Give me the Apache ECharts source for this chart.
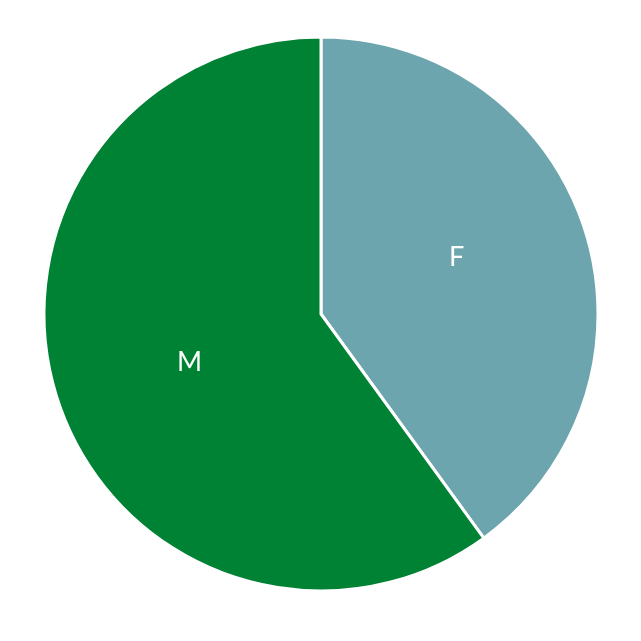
<!DOCTYPE html>
<html>
<head>
<meta charset="utf-8">
<script src="https://cdn.jsdelivr.net/npm/echarts@6/dist/echarts.min.js"></script>
<style>
  html, body { margin: 0; padding: 0; background: #fff; }
  #chart { width: 641px; height: 641px; }
</style>
</head>
<body>
<div id="chart"></div>
<script>
// categories and values
const categories = ["F", "M"];
const values = [40, 60];
const colors = ["#6ca5ad", "#008234"];
// small nudges so the labels sit where the original put them
const labelOffsets = [[1, -13], [3, 5]];

const chart = echarts.init(document.getElementById("chart"));
const option = {
  animation: false,
  series: [
    {
      type: "pie",
      center: [321, 314],
      radius: [0, 277],
      startAngle: 90,
      clockwise: true,
      data: categories.map((name, i) => ({
        name: name,
        value: values[i],
        itemStyle: { color: colors[i] },
        label: { offset: labelOffsets[i] },
      })),
      itemStyle: {
        borderColor: "#fff",
        borderWidth: 3,
      },
      label: {
        show: true,
        position: "inside",
        formatter: "{b}",
        color: "#fff",
        fontSize: 27,
        fontFamily: "Lato",
        fontWeight: "normal",
      },
      labelLine: { show: false },
      emphasis: { disabled: true },
    },
  ],
};
chart.setOption(option);
</script>
</body>
</html>
